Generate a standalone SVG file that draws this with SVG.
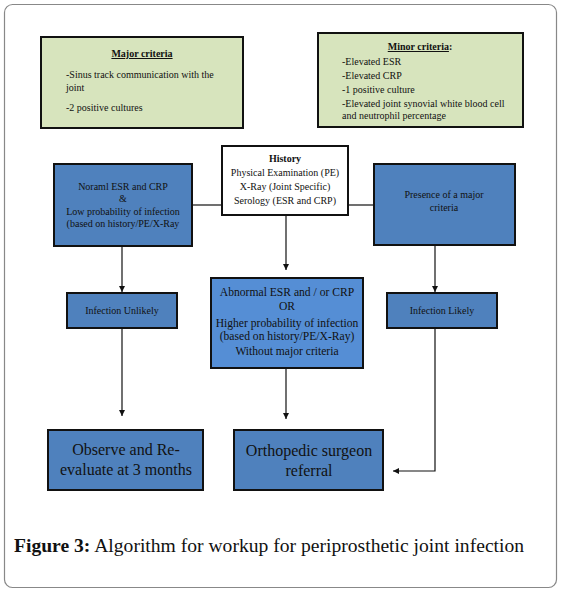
<svg xmlns="http://www.w3.org/2000/svg" width="563" height="593" viewBox="0 0 563 593">
<defs>
<style>
.t{font-family:"Liberation Serif","Times New Roman",serif;fill:#111;text-anchor:middle}
.s{font-size:10px}
.s2{font-size:11.6px}
.m{font-size:16px}
.green{fill:#d7e4bd;stroke:#111;stroke-width:2}
.blue{fill:#4f81bd;stroke:#111;stroke-width:2}
.blue2{fill:#558ed5;stroke:#111;stroke-width:2}
.white{fill:#fff;stroke:#111;stroke-width:2}
.c{fill:none;stroke:#111;stroke-width:1.2}
</style>
<marker id="ah" viewBox="0 0 10 10" refX="10" refY="5" markerWidth="6" markerHeight="6" orient="auto" markerUnits="userSpaceOnUse">
<path d="M0,0 L10,5 L0,10 z" fill="#111"/>
</marker>
</defs>
<rect x="4.5" y="4.5" width="552" height="583" rx="8" fill="#fff" stroke="#888" stroke-width="1.2"/>
<g id="major">
<rect class="green" x="41" y="37" width="202" height="91"/>
<text class="t s" x="142" y="57" font-weight="bold" text-decoration="underline">Major criteria</text>
<text class="t s" x="66" y="78" style="text-anchor:start">-Sinus track communication with the</text>
<text class="t s" x="66" y="91" style="text-anchor:start">joint</text>
<text class="t s" x="66" y="111" style="text-anchor:start">-2 positive cultures</text>
</g>
<g id="minor">
<rect class="green" x="318" y="33" width="205" height="94"/>
<text class="t s" x="420" y="50" font-weight="bold"><tspan text-decoration="underline">Minor criteria</tspan>:</text>
<text class="t s" x="342" y="65" style="text-anchor:start">-Elevated ESR</text>
<text class="t s" x="342" y="79" style="text-anchor:start">-Elevated CRP</text>
<text class="t s" x="342" y="93" style="text-anchor:start">-1 positive culture</text>
<text class="t s" x="342" y="107" style="text-anchor:start">-Elevated joint synovial white blood cell</text>
<text class="t s" x="342" y="119" style="text-anchor:start">and neutrophil percentage</text>
</g>
<g id="connectors">
<line class="c" x1="192" y1="205" x2="222" y2="205"/>
<line class="c" x1="348" y1="205" x2="374" y2="205"/>
<line class="c" x1="122" y1="246" x2="122" y2="292" marker-end="url(#ah)"/>
<line class="c" x1="122" y1="328" x2="122" y2="416" marker-end="url(#ah)"/>
<line class="c" x1="286" y1="215" x2="286" y2="270" marker-end="url(#ah)"/>
<line class="c" x1="286" y1="368" x2="286" y2="419" marker-end="url(#ah)"/>
<line class="c" x1="435" y1="245" x2="435" y2="292" marker-end="url(#ah)"/>
<polyline class="c" points="435,328 435,471 393,471" marker-end="url(#ah)"/>
</g>
<g id="history">
<rect class="white" x="222" y="146" width="126" height="69"/>
<text class="t s" x="285" y="162" font-weight="bold">History</text>
<text class="t s" x="285" y="176">Physical Examination (PE)</text>
<text class="t s" x="285" y="190">X-Ray (Joint Specific)</text>
<text class="t s" x="285" y="204">Serology (ESR and CRP)</text>
</g>
<g id="normal">
<rect class="blue" x="54" y="164" width="138" height="82"/>
<text class="t s" x="123" y="190">Noraml ESR and CRP</text>
<text class="t s" x="123" y="202">&amp;</text>
<text class="t s" x="123" y="215">Low probability of infection</text>
<text class="t s" x="123" y="227">(based on history/PE/X-Ray</text>
</g>
<g id="presence">
<rect class="blue" x="374" y="164" width="141" height="81"/>
<text class="t s" x="444" y="198">Presence of a major</text>
<text class="t s" x="444" y="211">criteria</text>
</g>
<g id="unlikely">
<rect class="blue" x="67" y="293" width="110" height="35"/>
<text class="t s" x="122" y="314">Infection Unlikely</text>
</g>
<g id="abnormal">
<rect class="blue2" x="211" y="278" width="152" height="90"/>
<text class="t s2" x="287" y="296">Abnormal ESR and / or CRP</text>
<text class="t s2" x="287" y="310">OR</text>
<text class="t s2" x="287" y="327">Higher probability of infection</text>
<text class="t s2" x="287" y="340">(based on history/PE/X-Ray)</text>
<text class="t s2" x="287" y="355">Without major criteria</text>
</g>
<g id="likely">
<rect class="blue" x="387" y="293" width="110" height="35"/>
<text class="t s" x="442" y="314">Infection Likely</text>
</g>
<g id="observe">
<rect class="blue" x="48" y="430" width="155" height="60"/>
<text class="t m" x="126" y="455">Observe and Re-</text>
<text class="t m" x="126" y="475">evaluate at 3 months</text>
</g>
<g id="referral">
<rect class="blue" x="234" y="430" width="149" height="60"/>
<text class="t m" x="309" y="456">Orthopedic surgeon</text>
<text class="t m" x="309" y="476">referral</text>
</g>
<text x="14" y="552" font-family="Liberation Serif, serif" font-size="19.6" fill="#111"><tspan font-weight="bold">Figure 3:</tspan> Algorithm for workup for periprosthetic joint infection</text>
</svg>
